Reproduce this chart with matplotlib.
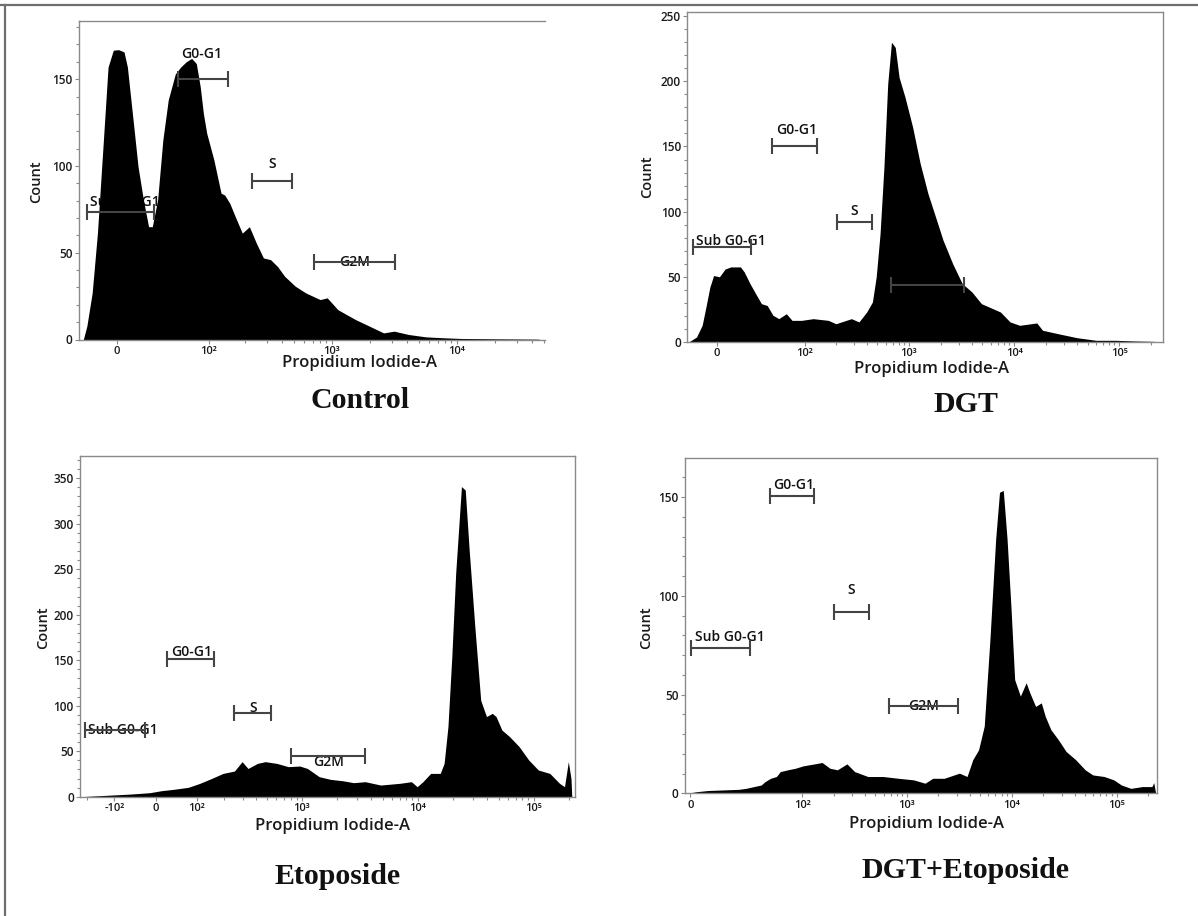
import matplotlib.pyplot as plt
import numpy as np
from matplotlib.lines import Line2D

plt.rcParams['font.family'] = ['Open Sans', 'DejaVu Sans']

W, H = 1198, 916

# Control histogram (Propidium Iodide-A intensity vs count)
control_pi = [-24.9, -22, -17.8, -13.8, -9.9, -6.1, -2.4, 1.3, 5.1, 7.5, 11.4, 15.3,
              19.4, 23.6, 26.7, 31.4, 36.3, 41.7, 49.4, 55.8, 63, 70.7, 77.9, 84.4,
              90, 96.1, 110.6, 127, 136, 150, 166, 190, 217, 247, 282, 322, 367, 418,
              509, 619, 805, 917, 1115, 1543, 2135, 2593, 3151, 4096, 5665, 7835,
              10860, 20830, 45450]
control_count = [0, 7.7, 26.8, 61.3, 109, 157, 166.7, 167, 165.7, 157, 128, 99.6,
                 80.5, 65, 65, 80.5, 115, 138, 153, 157, 160, 162, 159, 145.6,
                 130, 118.8, 103.4, 84.3, 83.3, 78.5, 71, 61.3, 65, 55.6, 47, 46, 42, 36.4,
                 30.7, 26.8, 23, 24, 17.2, 11.5, 6.7, 3.8, 4.8, 2.9, 1.5, 1,
                 0.6, 0.4, 0.2]

# DGT
dgt_pi = [-19.9, -14, -10, -7.4, -4.8, -2.3, 1.5, 5.3, 9.1, 16, 18.9, 23.5, 28.4,
          33.9, 39.9, 46.5, 54, 65, 74.4, 93, 121, 170, 201, 283, 334, 396, 449, 488,
          531, 578, 628, 682, 741, 806, 916, 1083, 1278, 1514, 1789, 2112, 2607, 3210,
          3965, 4890, 6270, 7410, 9150, 11280, 16440, 18630, 26070, 39630, 60240,
          91560, 139200, 211200, 260700]
dgt_count = [0, 3.8, 12.8, 26.9, 42, 51, 50, 56, 57.6, 57.6, 53.7, 44.8, 37.1,
             29.4, 28, 20.5, 17.9, 21.7, 16.6, 16.6, 17.9, 16.6, 14, 17.9, 15.4, 23, 30.7, 50,
             83, 134, 198, 230, 226, 203, 188, 165, 137, 114, 96, 78, 60, 44.8,
             38.4, 29.4, 25.6, 23, 15.4, 12.8, 14.6, 9, 6.4, 3.3, 1.3,
             1.3, 0.8, 0.5, 0]

# Etoposide
etop_pi = [-234, -177, -109, -56.5, -12.4, 12.9, 38.7, 76.8, 110, 149, 196, 252, 297,
           336, 409, 479, 606, 763, 961, 1120, 1414, 1778, 2237, 2811, 3531, 4796,
           7018, 8833, 9911, 11110, 12950, 15660, 16920, 18260, 19720, 21290, 23870,
           25740, 27830, 31130, 34980, 39220, 44000, 47480, 53240, 62040, 75020,
           90750, 109800, 137900, 167200, 184600, 199200, 210000, 213400]
etop_count = [0, 0.7, 1.8, 2.9, 4.4, 6.6, 8, 10.3, 14.7, 20, 25.6, 28.2, 38.5,
              31, 36.6, 38.5, 36.6, 33, 33.7, 31, 22, 19, 17.6, 15.4, 16.5, 12.8,
              14.7, 16.5, 11, 16.5, 25.6, 25.6, 36.6, 77, 154, 245.5, 340.8,
              337, 271, 187, 106, 88, 91.6, 88, 73.3, 66, 55,
              40.3, 29.3, 25.6, 14.7, 11, 38.5, 20, 0]

# DGT + Etoposide
combo_pi = [-1.3, 2.3, 6.8, 13.5, 21.9, 26.7, 32.7, 39, 42.7, 48.7, 55.7, 60.9, 72.2,
            85.8, 101.8, 131, 155, 184, 217, 268, 317, 425, 594, 831, 1161, 1491, 1767,
            2269, 3173, 3750, 4250, 4830, 5470, 6200, 7030, 7650, 8310, 9030, 9820,
            10670, 12090, 13730, 14910, 16900, 19150, 20880, 23640, 27950, 32990,
            40750, 50160, 59390, 76260, 94080, 111200, 136900, 176100, 217100,
            226400, 235800]
combo_count = [0, 0.8, 1.4, 1.7, 2, 2.5, 3.4, 4.2, 5.9, 7.6, 8.5, 11, 11.9,
               12.7, 13.9, 14.9, 15.6, 12.7, 11.9, 14.9, 11, 8.5, 8.5, 7.6, 6.8, 5.1, 7.6,
               7.6, 10.2, 8.5, 17, 22, 34, 78, 128.8, 152.5, 153.4, 128.8, 95,
               57.6, 49.2, 56, 50.8, 44, 45.8, 39, 32.2, 27, 21.2,
               17, 11.9, 9.3, 8.5, 6.8, 4.2, 2.5, 3.4, 3.4,
               5.4, 0]

# gates: name, start, end, count level
gate_names = ['Sub G0-G1', 'G0-G1', 'S', 'G2M']
control_gate_lo = [-22, 52.2, 227, 719]
control_gate_hi = [28.2, 145.5, 483, 3200]
control_gate_level = [73.4, 150, 91.4, 44.4]
dgt_gate_lo = [-16.9, 45.7, 205, 682]
dgt_gate_hi = [24.5, 131, 449, 3348]
dgt_gate_level = [72.9, 150.5, 92.1, 44]
etop_gate_lo = [-211, 25.7, 252, 812]
etop_gate_hi = [-22.6, 157, 539, 3531]
etop_gate_level = [73.3, 151.3, 91.6, 44.7]
combo_gate_lo = [0.45, 48, 200, 674]
combo_gate_hi = [29.4, 131, 435, 3091]
combo_gate_level = [73.4, 150.8, 91.9, 44.4]

titles = ['Control', 'DGT', 'Etoposide', 'DGT+Etoposide']


def asinh_functions(c):
    def fwd(x):
        return np.arcsinh(np.asarray(x, dtype=float) / c) / np.log(10)

    def inv(y):
        return c * np.sinh(np.asarray(y, dtype=float) * np.log(10))
    return fwd, inv


def px_rect(left, top, right, bottom):
    return [left / W, 1 - bottom / H, (right - left) / W, (bottom - top) / H]


sup = {2: '10²', 3: '10³', 4: '10⁴', 5: '10⁵'}

panels = [
    dict(pi=control_pi, count=control_count, c=38, xlim=(-28.6, 50700), ymax=183.7,
         rect=px_rect(79, 20.7, 545, 339.5), right=False, decades=[2, 3, 4], neg=False,
         lo=control_gate_lo, hi=control_gate_hi, lev=control_gate_level,
         # label placement: (dy px, mode)
         lab=[(10, 'left'), (25, 'left'), (17, 'center'), (0, 'center')],
         xlab=(0.603, -0.074), ylab=(-0.091, 0.495), title=(360, 400)),
    dict(pi=dgt_pi, count=dgt_count, c=30, xlim=(-21, 262144), ymax=253.4,
         rect=px_rect(687.3, 11.7, 1163.3, 342), right=True, decades=[2, 3, 4, 5], neg=False,
         lo=dgt_gate_lo, hi=dgt_gate_hi, lev=dgt_gate_level,
         lab=[(6, 'left'), (16, 'left'), (11, 'center'), (0, 'center')],
         xlab=(0.513, -0.082), ylab=(-0.085, 0.5), title=(966, 405)),
    dict(pi=etop_pi, count=etop_count, c=110, xlim=(-234, 227400), ymax=374.4,
         rect=px_rect(80, 456, 575, 796.7), right=True, decades=[2, 3, 4, 5], neg=True,
         lo=etop_gate_lo, hi=etop_gate_hi, lev=etop_gate_level,
         lab=[(0, 'left'), (7, 'left'), (5, 'center'), (-6, 'center')],
         xlab=(0.511, -0.085), ylab=(-0.074, 0.495), title=(338, 877)),
    dict(pi=combo_pi, count=combo_count, c=17.2, xlim=(-2, 243000), ymax=169.7,
         rect=px_rect(685, 458.3, 1157, 793.3), right=True, decades=[2, 3, 4, 5], neg=False,
         lo=combo_gate_lo, hi=combo_gate_hi, lev=combo_gate_level,
         lab=[(11, 'left'), (11, 'left'), (22, 'center'), (0, 'center')],
         xlab=(0.512, -0.091), ylab=(-0.083, 0.493), title=(965, 871)),
]

fig = plt.figure(figsize=(W / 100, H / 100), dpi=100)

for p, title in zip(panels, titles):
    ax = fig.add_axes(p['rect'])
    c = p['c']
    fwd, inv = asinh_functions(c)
    ax.set_xscale('function', functions=(fwd, inv))
    ax.set_xlim(*p['xlim'])
    ax.set_ylim(0, p['ymax'])

    ax.fill_between(p['pi'], p['count'], 0, color='black', lw=0, zorder=2)

    # x ticks
    ticks = [0] + [10 ** d for d in p['decades']]
    labels = ['0'] + [sup[d] for d in p['decades']]
    if p['neg']:
        ticks = [-100] + ticks
        labels = ['-10²'] + labels
    ax.set_xticks(ticks)
    ax.set_xticklabels(labels)
    minors = [k * 10 ** d for d in range(2, 6) for k in range(2, 10)]
    minors = [m for m in minors if m < p['xlim'][1]]
    minors += [-m for m in [200, 300] if -m > p['xlim'][0]]
    ax.set_xticks(minors, minor=True)

    ax.set_yticks(np.arange(0, p['ymax'], 50))
    ax.set_yticks(np.arange(0, p['ymax'], 10), minor=True)

    ax.tick_params(which='both', direction='out', color='#8a8a8a', width=0.8,
                   labelcolor='#1a1a1a', pad=1.5)
    ax.tick_params(axis='y', labelsize=8.5)
    ax.tick_params(axis='x', labelsize=8)
    ax.tick_params(which='major', length=3)
    ax.tick_params(which='minor', length=2)
    for lbl in ax.get_xticklabels() + ax.get_yticklabels():
        lbl.set_fontweight('semibold')

    for side in ['left', 'bottom', 'top', 'right']:
        ax.spines[side].set_color('#8a8a8a')
        ax.spines[side].set_linewidth(1.0)
    ax.spines['right'].set_visible(p['right'])

    ax.set_xlabel('Propidium Iodide-A', fontsize=12, color='#1a1a1a', fontweight='semibold')
    ax.xaxis.set_label_coords(*p['xlab'])
    ax.xaxis.label.set_va('center')
    ax.set_ylabel('Count', fontsize=10.5, color='#1a1a1a', fontweight='semibold')
    ax.yaxis.set_label_coords(*p['ylab'])
    ax.yaxis.label.set_va('center')

    # gates
    for name, lo, hi, lev, (dy, mode) in zip(gate_names, p['lo'], p['hi'], p['lev'], p['lab']):
        ax.plot([lo, hi], [lev, lev], color='#444444', lw=1.5, marker='|',
                markersize=12, mew=1.5, zorder=3, solid_capstyle='butt')
        if mode == 'left':
            x_lab, ha, dx = lo, 'left', 2.5
        else:
            x_lab, ha, dx = inv((fwd(lo) + fwd(hi)) / 2), 'center', 0
        ax.annotate(name, xy=(x_lab, lev), xytext=(dx, dy * 0.72), textcoords='offset points',
                    ha=ha, va='center', fontsize=10, color='#111111', fontweight='semibold',
                    zorder=1)

    fig.text(p['title'][0] / W, 1 - p['title'][1] / H, title, ha='center', va='center',
             fontsize=21.5, fontweight='bold', family='Liberation Serif', color='#111111')

# page border (top and left)
fig.add_artist(Line2D([0, 1], [1 - 5 / H, 1 - 5 / H], transform=fig.transFigure,
                      color='#6e6e6e', lw=1.6))
fig.add_artist(Line2D([5 / W, 5 / W], [0, 1 - 5 / H], transform=fig.transFigure,
                      color='#6e6e6e', lw=1.6))

fig.savefig('out.png', dpi=100)
